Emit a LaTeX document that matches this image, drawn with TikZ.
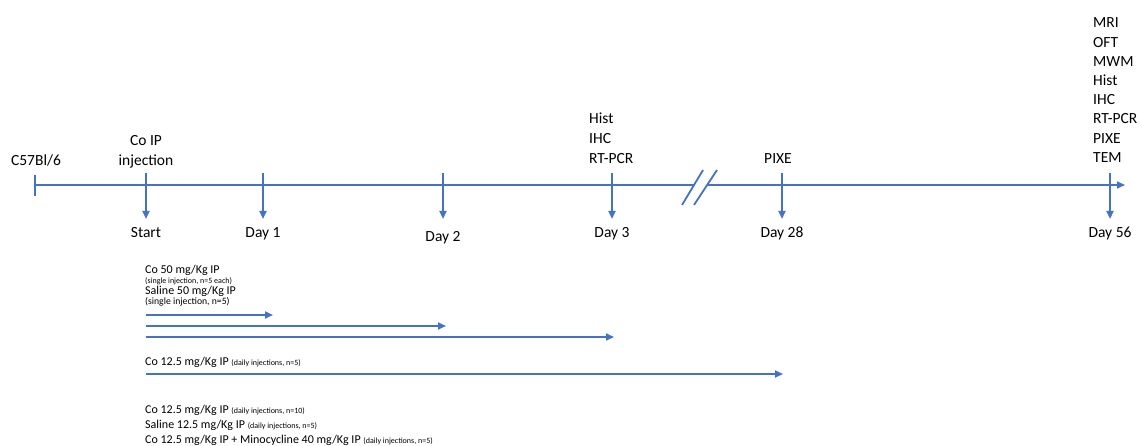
\documentclass[tikz,border=0pt]{standalone}
\usepackage{fontspec}
\setmainfont{Carlito}
\usetikzlibrary{arrows.meta}
\definecolor{tl}{HTML}{4472C4}
\begin{document}
\begin{tikzpicture}[x=1pt,y=-1pt,
  tlline/.style={draw=tl, line width=2pt},
  arr/.style={tlline, -{Triangle[width=7pt,length=8pt]}},
  slash/.style={draw=tl, line width=1.8pt},
  big/.style={font=\fontsize{15.5}{19}\selectfont, inner sep=0pt},
  mid/.style={font=\fontsize{12}{14}\selectfont, inner sep=0pt, anchor=base west},
  small/.style={font=\fontsize{9.7}{11}\selectfont, inner sep=0pt, anchor=base west}]
\useasboundingbox (0,0) rectangle (1142,446);

% main time line
\coordinate (L0) at (35,185);
\coordinate (B1) at (694,185);
\coordinate (B2) at (707,185);
\coordinate (L1) at (1125,185);
\coordinate (T0a) at (35,175);
\coordinate (T0b) at (35,196);
\draw[tlline] (L0) -- (B1);
\draw[arr] (B2) -- (L1);
\draw[tlline] (T0a) -- (T0b);
% break marks
\coordinate (S1a) at (682,205); \coordinate (S1b) at (703,170);
\coordinate (S2a) at (694,205); \coordinate (S2b) at (717,170);
\draw[slash] (S1a) -- (S1b);
\draw[slash] (S2a) -- (S2b);

% ticks with arrows
\foreach \n/\x in {st/146, d1/263, d2/443, d3/612, d28/782, d56/1110}{
  \coordinate (\n-top) at (\x,173);
  \coordinate (\n-bot) at (\x,219);
  \draw[arr] (\n-top) -- (\n-bot);
}

% labels below
\node[big, anchor=base] (lst) at (146,237) {Start};
\node[big, anchor=base] (ld1) at (263,237) {Day 1};
\node[big, anchor=base] (ld2) at (443,241) {Day 2};
\node[big, anchor=base] (ld3) at (612,237) {Day 3};
\node[big, anchor=base] (ld28) at (782,237) {Day 28};
\node[big, anchor=base] (ld56) at (1110,237) {Day 56};

% labels above
\node[big, anchor=base] (c57) at (36,166) {C57Bl/6};
\node[big, anchor=base] (coip) at (146,146) {Co IP};
\node[big, anchor=base] (inj) at (146,166) {injection};
\node[big, anchor=base west] (h3a) at (589,124) {Hist};
\node[big, anchor=base west] (h3b) at (589,144) {IHC};
\node[big, anchor=base west] (h3c) at (589,164) {RT-PCR};
\node[big, anchor=base] (px) at (778,164) {PIXE};
\foreach \t [count=\i from 0] in {MRI,OFT,MWM,Hist,IHC,RT-PCR,PIXE,TEM}
  \node[big, anchor=base west] (r\i) at (1093,{28+19.2*\i}) {\t};

% treatment groups
\node[mid] (g1) at (145,273) {Co 50 mg/Kg IP};
\node[mid] (g1s) at (145,283) {\fontsize{8}{9}\selectfont (single injection, n=5 each)};
\node[mid] (g2) at (145,294) {Saline 50 mg/Kg IP};
\node[small] (g2s) at (145,304) {(single injection, n=5)};

\coordinate (a0) at (146,315); \coordinate (a1) at (273,315);
\coordinate (b0) at (146,326); \coordinate (b1) at (446,326);
\coordinate (c0) at (146,337); \coordinate (c1) at (614,337);
\coordinate (e0) at (146,374); \coordinate (e1) at (783,374);
\draw[arr] (a0) -- (a1);
\draw[arr] (b0) -- (b1);
\draw[arr] (c0) -- (c1);
\draw[arr] (e0) -- (e1);

\node[mid] (g3) at (145,365) {Co 12.5 mg/Kg IP {\fontsize{8}{9}\selectfont (daily injections, n=5)}};
\node[mid] (g4) at (145,413) {Co 12.5 mg/Kg IP {\fontsize{8}{9}\selectfont (daily injections, n=10)}};
\node[mid] (g5) at (145,428) {Saline 12.5 mg/Kg IP {\fontsize{8}{9}\selectfont (daily injections, n=5)}};
\node[mid] (g6) at (145,443) {Co 12.5 mg/Kg IP + Minocycline 40 mg/Kg IP {\fontsize{8}{9}\selectfont (daily injections, n=5)}};
\end{tikzpicture}
\end{document}
